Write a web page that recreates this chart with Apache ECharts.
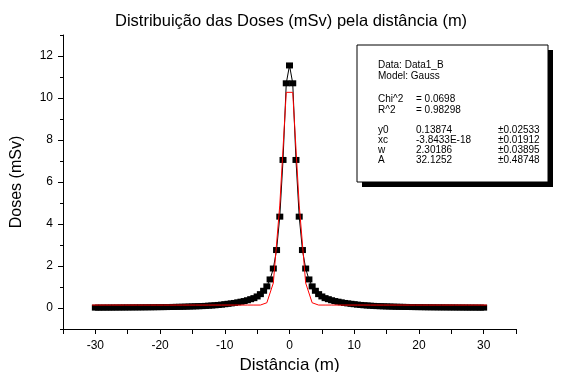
<!DOCTYPE html>
<html>
<head>
<meta charset="utf-8">
<script src="https://cdn.jsdelivr.net/npm/echarts@6/dist/echarts.min.js"></script>
<style>html,body{margin:0;padding:0;background:#fff}#c{width:562px;height:372px}</style>
</head>
<body>
<div id="c"></div>
<script>
var distance = [
 -30,-29.5,-29,-28.5,-28,-27.5,-27,-26.5,-26,-25.5,-25,-24.5,-24,-23.5,-23,-22.5,-22,-21.5,-21,-20.5,
 -20,-19.5,-19,-18.5,-18,-17.5,-17,-16.5,-16,-15.5,-15,-14.5,-14,-13.5,-13,-12.5,-12,-11.5,-11,-10.5,
 -10,-9.5,-9,-8.5,-8,-7.5,-7,-6.5,-6,-5.5,-5,-4.5,-4,-3.5,-3,-2.5,-2,-1.5,-1,-0.5,
 0,
 0.5,1,1.5,2,2.5,3,3.5,4,4.5,5,5.5,6,6.5,7,7.5,8,8.5,9,9.5,10,
 10.5,11,11.5,12,12.5,13,13.5,14,14.5,15,15.5,16,16.5,17,17.5,18,18.5,19,19.5,20,
 20.5,21,21.5,22,22.5,23,23.5,24,24.5,25,25.5,26,26.5,27,27.5,28,28.5,29,29.5,30
];
var dose = [
 0.018,0.019,0.02,0.021,0.021,0.022,0.023,0.024,0.025,0.026,0.027,0.028,0.029,0.03,0.031,0.032,0.034,0.035,0.037,0.039,
 0.041,0.043,0.045,0.048,0.051,0.054,0.057,0.06,0.065,0.07,0.075,0.08,0.085,0.09,0.1,0.11,0.12,0.13,0.145,0.16,
 0.18,0.2,0.22,0.24,0.27,0.3,0.33,0.37,0.42,0.47,0.55,0.66,0.82,1.03,1.36,1.88,2.76,4.35,7.05,10.7,
 11.55,
 10.7,7.05,4.35,2.76,1.88,1.36,1.03,0.82,0.66,0.55,0.47,0.42,0.37,0.33,0.3,0.27,0.24,0.22,0.2,0.18,
 0.16,0.145,0.13,0.12,0.11,0.1,0.09,0.085,0.08,0.075,0.07,0.065,0.06,0.057,0.054,0.051,0.048,0.045,0.043,0.041,
 0.039,0.037,0.035,0.034,0.032,0.031,0.03,0.029,0.028,0.027,0.026,0.025,0.024,0.023,0.022,0.021,0.021,0.02,0.019,0.018
];
// Gauss fit curve
var fitX = [
 -30.5,-29.5,-28.5,-27.5,-26.5,-25.5,-24.5,-23.5,-22.5,-21.5,-20.5,-19.5,-18.5,-17.5,-16.5,-15.5,-14.5,-13.5,-12.5,-11.5,
 -10.5,-9.5,-8.5,-7.5,-6.5,-5.5,-4.5,-3.5,-2.5,-1.5,-0.5,
 0.5,1.5,2.5,3.5,4.5,5.5,6.5,7.5,8.5,9.5,10.5,
 11.5,12.5,13.5,14.5,15.5,16.5,17.5,18.5,19.5,20.5,21.5,22.5,23.5,24.5,25.5,26.5,27.5,28.5,29.5,30.5
];
var fitY = [
 0.14,0.14,0.14,0.14,0.14,0.14,0.14,0.14,0.14,0.14,0.14,0.14,0.14,0.14,0.14,0.14,0.14,0.14,0.14,0.14,
 0.14,0.14,0.14,0.14,0.14,0.14,0.14,0.25,1.19,4.9,10.27,
 10.27,4.9,1.19,0.25,0.14,0.14,0.14,0.14,0.14,0.14,0.14,
 0.14,0.14,0.14,0.14,0.14,0.14,0.14,0.14,0.14,0.14,0.14,0.14,0.14,0.14,0.14,0.14,0.14,0.14,0.14,0.14
];
var yMajorTicks = [0,2,4,6,8,10,12];
var yMinorTicks = [-1,1,3,5,7,9,11,13];
var fitLines = [
 ['Data: Data1_B'],
 ['Model: Gauss'],
 null,
 ['Chi^2', '= 0.0698'],
 ['R^2', '= 0.98298'],
 null,
 ['y0', '0.13874', '\u00b10.02533'],
 ['xc', '-3.8433E-18', '\u00b10.01912'],
 ['w', '2.30186', '\u00b10.03895'],
 ['A', '32.1252', '\u00b10.48748']
];

var FONT = '"Liberation Sans", Arial, Helvetica, sans-serif';
var chart = echarts.init(document.getElementById('c'), null, {renderer: 'canvas'});

var blackData = distance.map(function (x, i) { return [x, dose[i]]; });
var redData = fitX.map(function (x, i) { return [x, fitY[i]]; });

// Text box
var gfx = [
 {type: 'rect', shape: {x: 362, y: 50, width: 191, height: 137}, style: {fill: '#000'}, z: 10},
 {type: 'rect', shape: {x: 357, y: 45, width: 191, height: 137}, style: {fill: '#fff', stroke: '#000', lineWidth: 1}, z: 11}
];
var lineYs = [65, 76.5, 0, 99, 110.5, 0, 130.5, 140.5, 150.5, 160.5];
var colX = [378, 416, 498];
fitLines.forEach(function (row, i) {
  if (!row) return;
  row.forEach(function (t, j) {
    var x = colX[j];
    if (row.length === 1) x = colX[0];
    gfx.push({type: 'text', x: x, y: lineYs[i], z: 12,
      style: {text: t, fill: '#000', font: '10px ' + FONT, verticalAlign: 'middle'}});
  });
});

chart.setOption({
  animation: false,
  backgroundColor: '#fff',
  title: {
    text: 'Distribuição das Doses (mSv) pela distância (m)',
    left: 110, top: 8,
    textStyle: {fontFamily: FONT, fontSize: 16.5, fontWeight: 'normal', color: '#000'}
  },
  grid: {left: 63, top: 35, right: 46, bottom: 43, containLabel: false, outerBoundsMode: 'none'},
  xAxis: {
    type: 'value', min: -35, max: 35, interval: 5,
    name: 'Distância (m)', nameLocation: 'middle', nameGap: 25,
    nameTextStyle: {fontFamily: FONT, fontSize: 17, color: '#000'},
    axisLine: {show: true, onZero: false, lineStyle: {color: '#000', width: 1}},
    axisTick: {show: true, inside: false, length: 5, lineStyle: {color: '#000'}},
    axisLabel: {fontFamily: FONT, fontSize: 12, color: '#000', margin: 11,
      formatter: function (v) { return (v % 10 === 0 && Math.abs(v) <= 30) ? String(v) : ''; }},
    splitLine: {show: false}
  },
  yAxis: [{
    type: 'value', min: -1, max: 13,
    name: 'Doses (mSv)', nameLocation: 'middle', nameGap: 38,
    nameTextStyle: {fontFamily: FONT, fontSize: 16, color: '#000'},
    axisLine: {show: true, onZero: false, lineStyle: {color: '#000', width: 1}},
    axisTick: {show: true, inside: false, length: 5, customValues: yMajorTicks, lineStyle: {color: '#000'}},
    axisLabel: {fontFamily: FONT, fontSize: 12, color: '#000', margin: 10, customValues: yMajorTicks},
    splitLine: {show: false}
  }, {
    type: 'value', min: -1, max: 13, position: 'left',
    axisLine: {show: false, onZero: false},
    axisTick: {show: true, inside: false, length: 3, customValues: yMinorTicks, lineStyle: {color: '#000'}},
    axisLabel: {show: false},
    splitLine: {show: false}
  }],
  series: [{
    type: 'line', data: blackData, yAxisIndex: 0,
    symbol: 'rect', symbolSize: [7, 6], showAllSymbol: true,
    lineStyle: {color: '#000', width: 1},
    itemStyle: {color: '#000'},
    z: 2
  }, {
    type: 'line', data: redData, yAxisIndex: 0,
    symbol: 'none',
    lineStyle: {color: '#ff0000', width: 1},
    z: 3
  }],
  graphic: gfx
});
</script>
</body>
</html>
